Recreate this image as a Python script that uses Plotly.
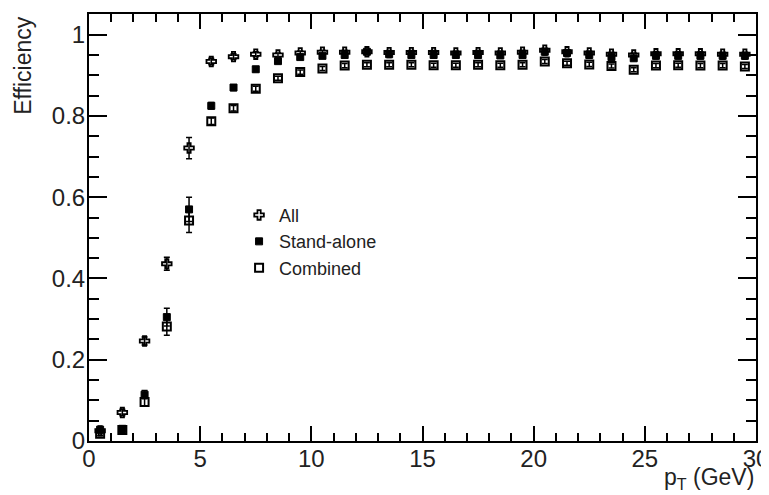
import plotly.graph_objects as go

pt = [0.5 + i for i in range(30)]

eff_all = [0.025, 0.070, 0.246, 0.436, 0.721, 0.934, 0.946, 0.952, 0.950, 0.955,
           0.957, 0.957, 0.958, 0.956, 0.956, 0.956, 0.955, 0.956, 0.955, 0.957,
           0.962, 0.958, 0.955, 0.952, 0.950, 0.953, 0.953, 0.953, 0.952, 0.952]
err_all = [0.005, 0.008, 0.010, 0.016, 0.026, 0.008, 0.007, 0.006, 0.005, 0.005,
           0.005, 0.005, 0.005, 0.005, 0.005, 0.005, 0.005, 0.005, 0.005, 0.005,
           0.005, 0.005, 0.005, 0.005, 0.005, 0.005, 0.005, 0.005, 0.005, 0.005]

eff_sa = [0.028, 0.030, 0.114, 0.305, 0.570, 0.825, 0.870, 0.915, 0.935, 0.945,
          0.948, 0.950, 0.958, 0.952, 0.950, 0.950, 0.950, 0.950, 0.949, 0.950,
          0.958, 0.955, 0.950, 0.945, 0.942, 0.948, 0.948, 0.948, 0.948, 0.948]
err_sa = [0.005, 0.006, 0.010, 0.022, 0.030, 0.008, 0.007, 0.006, 0.005, 0.005,
          0.005, 0.005, 0.005, 0.005, 0.005, 0.005, 0.005, 0.005, 0.005, 0.005,
          0.005, 0.005, 0.005, 0.005, 0.005, 0.005, 0.005, 0.005, 0.005, 0.005]

eff_comb = [0.018, 0.027, 0.096, 0.282, 0.543, 0.787, 0.819, 0.867, 0.893, 0.908,
            0.917, 0.924, 0.926, 0.926, 0.926, 0.925, 0.925, 0.926, 0.925, 0.926,
            0.934, 0.930, 0.927, 0.923, 0.914, 0.924, 0.925, 0.924, 0.924, 0.922]
err_comb = [0.005, 0.006, 0.010, 0.022, 0.030, 0.008, 0.007, 0.006, 0.005, 0.005,
            0.005, 0.005, 0.005, 0.005, 0.005, 0.005, 0.005, 0.005, 0.005, 0.005,
            0.005, 0.005, 0.005, 0.005, 0.005, 0.005, 0.005, 0.005, 0.005, 0.005]

FONT = "Liberation Sans, Arial, sans-serif"

fig = go.Figure()

def add(name, y, e, symbol, size, lw):
    fig.add_trace(go.Scatter(
        x=pt, y=y, name=name, mode="markers",
        marker=dict(symbol=symbol, size=size, color="black",
                    line=dict(color="black", width=lw)),
        error_y=dict(type="data", array=e, visible=True, color="black",
                     thickness=1.5, width=3),
    ))

add("All", eff_all, err_all, "cross-open", 8, 1.8)
add("Stand-alone", eff_sa, err_sa, "square", 7, 1)
add("Combined", eff_comb, err_comb, "square-open", 8, 2)

axis_common = dict(
    showline=True, linecolor="black", linewidth=2, mirror="ticks",
    ticks="inside", tickcolor="black", tickwidth=1.5,
    showgrid=False, zeroline=False,
    tickfont=dict(family=FONT, size=24, color="#222"),
)

fig.update_xaxes(range=[0, 30], dtick=5, tick0=0, ticklen=15,
                 ticklabelstandoff=-5,
                 minor=dict(ticks="inside", dtick=1, ticklen=8,
                            tickcolor="black", tickwidth=1.5, showgrid=False),
                 **axis_common)
fig.update_yaxes(range=[0, 1.051], ticklen=18,
                 ticklabelstandoff=-3,
                 tickvals=[0, 0.2, 0.4, 0.6, 0.8, 1.0],
                 ticktext=["0", "0.2", "0.4", "0.6", "0.8", "1"],
                 minor=dict(ticks="inside", dtick=0.05, tick0=0, ticklen=10,
                            tickcolor="black", tickwidth=1.5, showgrid=False),
                 **axis_common)

fig.add_annotation(text="Efficiency", xref="paper", yref="paper",
                   x=-0.1, y=1.0, xanchor="center", yanchor="top",
                   textangle=-90, showarrow=False,
                   font=dict(family=FONT, size=23, color="#222"))
fig.add_annotation(text="p<sub>T</sub> (GeV)", xref="paper", yref="paper",
                   x=1.0, y=-0.088, xanchor="right", yanchor="middle",
                   showarrow=False,
                   font=dict(family=FONT, size=23, color="#222"))

fig.update_layout(
    width=769, height=495,
    margin=dict(l=81, r=21, t=4, b=62),
    paper_bgcolor="white", plot_bgcolor="white",
    showlegend=True,
    legend=dict(x=0.225, y=0.572, xanchor="left", yanchor="top",
                bgcolor="rgba(0,0,0,0)", borderwidth=0,
                font=dict(family=FONT, size=18, color="#222"),
                itemwidth=30, tracegroupgap=0),
)

fig.write_html("out.html")
